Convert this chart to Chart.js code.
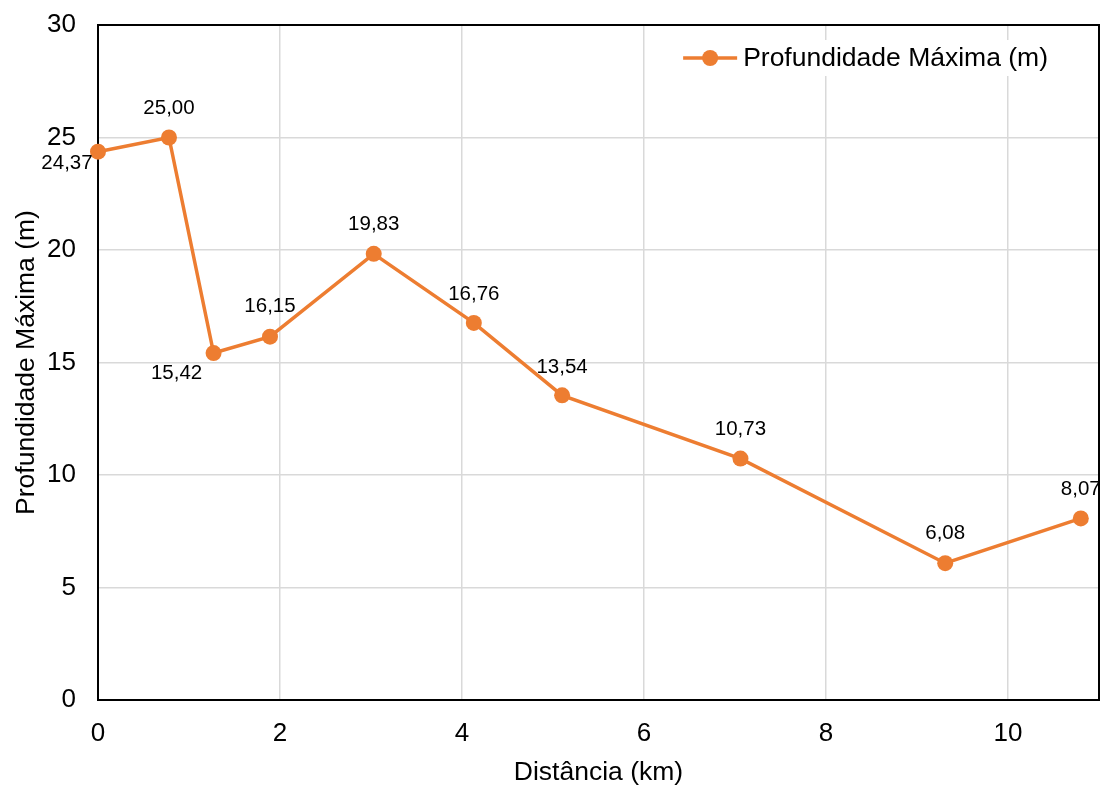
<!DOCTYPE html>
<html>
<head>
<meta charset="utf-8">
<script src="https://cdn.jsdelivr.net/npm/chart.js@4/dist/chart.umd.min.js"></script>
<style>
  html, body { margin: 0; padding: 0; background: #fff; }
  #wrap { width: 1102px; height: 785px; }
</style>
</head>
<body>
<div id="wrap"><canvas id="grafico" width="1102" height="785"></canvas></div>
<script>
// Perfil de profundidade máxima ao longo do trecho
const distanciaKm   = [0, 0.78, 1.27, 1.89, 3.03, 4.13, 5.10, 7.06, 9.31, 10.80];
const profundidadeM = [24.37, 25.00, 15.42, 16.15, 19.83, 16.76, 13.54, 10.73, 6.08, 8.07];
const xTickValues   = [0, 2, 4, 6, 8, 10];
const yTickValues   = [0, 5, 10, 15, 20, 25, 30];
const serieNome     = 'Profundidade Máxima (m)';
const tituloX       = 'Distância (km)';
const tituloY       = 'Profundidade Máxima (m)';

// deslocamento (px) de cada rótulo de valor em relação ao seu ponto
const rotuloDesloc = [[-31, 12], [0, -29], [-37, 20], [0, -30], [0, -29],
                      [0, -29], [0, -28], [0, -29], [0, -30], [0, -29]];

const COR = '#ED7D31';
const FONTE = '"Liberation Sans", Arial, sans-serif';

const fmt = v => v.toFixed(2).replace('.', ',');

// moldura preta em volta da área do gráfico
const moldura = {
  id: 'moldura',
  beforeDatasetsDraw(chart) {
    const a = chart.chartArea, ctx = chart.ctx;
    ctx.save();
    ctx.strokeStyle = '#000';
    ctx.lineWidth = 2;
    ctx.strokeRect(a.left, a.top, a.right - a.left, a.bottom - a.top);
    ctx.restore();
  }
};

// rótulos de valor de cada ponto
const rotulos = {
  id: 'rotulos',
  afterDatasetsDraw(chart) {
    const ctx = chart.ctx;
    const meta = chart.getDatasetMeta(0);
    const dados = chart.data.datasets[0].data;
    ctx.save();
    ctx.font = '20.5px ' + FONTE;
    ctx.fillStyle = '#000';
    ctx.textAlign = 'center';
    ctx.textBaseline = 'middle';
    meta.data.forEach((pt, i) => {
      const [dx, dy] = rotuloDesloc[i];
      ctx.fillText(fmt(dados[i].y), pt.x + dx, pt.y + dy);
    });
    ctx.restore();
  }
};

// legenda no canto superior direito, dentro da área do gráfico
const legenda = {
  id: 'legendaInterna',
  afterDraw(chart) {
    const ctx = chart.ctx;
    const a = chart.chartArea;
    const nome = chart.data.datasets[0].label;
    ctx.save();
    ctx.font = '26.5px ' + FONTE;
    const w = ctx.measureText(nome).width;
    const xFim = a.right - 51;
    const xTexto = xFim - w;
    const cy = a.top + 33;
    ctx.fillStyle = '#fff';
    ctx.fillRect(xTexto - 68, cy - 18, w + 74, 36);
    ctx.strokeStyle = COR;
    ctx.lineWidth = 3.5;
    ctx.beginPath();
    ctx.moveTo(xTexto - 60, cy);
    ctx.lineTo(xTexto - 6, cy);
    ctx.stroke();
    ctx.fillStyle = COR;
    ctx.beginPath();
    ctx.arc(xTexto - 33, cy, 8, 0, Math.PI * 2);
    ctx.fill();
    ctx.fillStyle = '#000';
    ctx.textAlign = 'left';
    ctx.textBaseline = 'middle';
    ctx.fillText(nome, xTexto, cy + 1);
    ctx.restore();
  }
};

new Chart(document.getElementById('grafico'), {
  type: 'line',
  data: {
    datasets: [{
      label: serieNome,
      data: distanciaKm.map((x, i) => ({ x, y: profundidadeM[i] })),
      borderColor: COR,
      backgroundColor: COR,
      borderWidth: 3.5,
      pointRadius: 8,
      pointHoverRadius: 8,
      pointBorderWidth: 0,
      pointBackgroundColor: COR,
      tension: 0,
      clip: false
    }]
  },
  options: {
    responsive: false,
    animation: false,
    devicePixelRatio: 1,
    layout: { autoPadding: false, padding: { top: 25, right: 3, left: 0, bottom: 0 } },
    plugins: { legend: { display: false }, tooltip: { enabled: false } },
    scales: {
      x: {
        type: 'linear',
        min: 0,
        max: 11,
        bounds: 'data',
        afterBuildTicks: s => { s.ticks = xTickValues.map(v => ({ value: v })); },
        afterFit: s => { s.height = 85; s.paddingLeft = 0; s.paddingRight = 0; },
        grid: { color: '#d9d9d9', lineWidth: 1.5, drawTicks: false },
        border: { display: false },
        ticks: {
          padding: 18,
          color: '#000',
          font: { family: FONTE, size: 26 },
          maxRotation: 0
        },
        title: {
          display: true,
          text: tituloX,
          color: '#000',
          font: { family: FONTE, size: 26.5 },
          padding: { top: -4, bottom: -4 }
        }
      },
      y: {
        type: 'linear',
        min: 0,
        max: 30,
        afterBuildTicks: s => { s.ticks = yTickValues.map(v => ({ value: v })); },
        afterFit: s => { s.width = 98; s.paddingTop = 0; s.paddingBottom = 0; },
        grid: { color: '#d9d9d9', lineWidth: 1.5, drawTicks: false },
        border: { display: false },
        ticks: {
          padding: 22,
          color: '#000',
          font: { family: FONTE, size: 26 }
        },
        title: {
          display: true,
          text: tituloY,
          color: '#000',
          font: { family: FONTE, size: 26.5 },
          padding: { top: 11, bottom: 0 }
        }
      }
    }
  },
  plugins: [moldura, rotulos, legenda]
});
</script>
</body>
</html>
